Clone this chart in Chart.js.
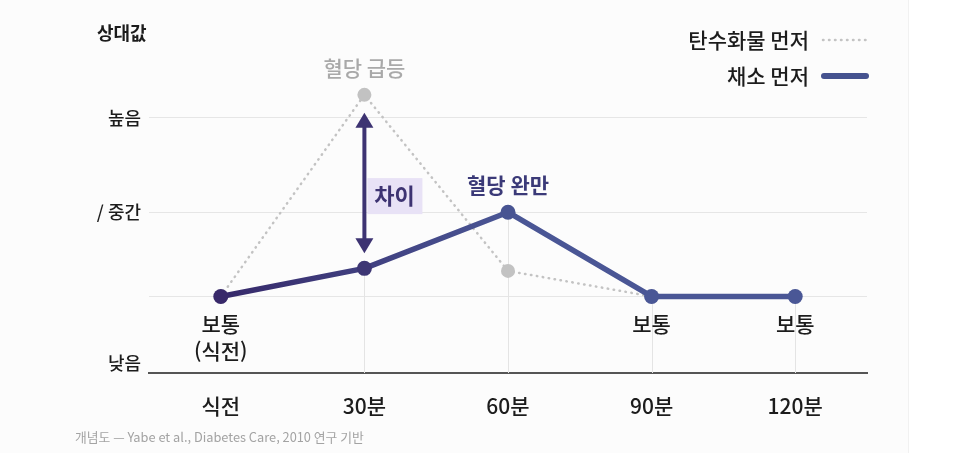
<!DOCTYPE html>
<html lang="ko">
<head>
<meta charset="UTF-8">
<title>식사 순서와 혈당</title>
<script src="https://cdn.jsdelivr.net/npm/chart.js"></script>
<style>
  html, body { margin: 0; background: #fff; }
  #wrap { width: 966px; height: 453px; position: relative; }
</style>
</head>
<body>
<div id="wrap"><canvas id="chart"></canvas></div>
<script>
const labels = ['식전', '30분', '60분', '90분', '120분'];
const carbsFirst = [30, 109, 40, 30, 30];
const vegFirst = [30, 41, 63, 30, 30];
const seriesNames = ['탄수화물 먼저', '채소 먼저'];
const yTicks = [0, 4, 30, 63, 100];
const yTickLabels = ['', '낮음', '', '/ 중간', '높음'];
const yTitle = '상대값';
const carbsNotes = ['', '혈당 급등', '', '', ''];
const vegTopNotes = ['', '', '혈당 완만', '', ''];
const vegBottomNotes = [['보통', '(식전)'], [], [], ['보통'], ['보통']];
const gapIndex = 1;
const gapLabel = '차이';
const caption = '개념도 — Yabe et al., Diabetes Care, 2010 연구 기반';

const FONT = '"Noto Sans CJK KR", "Noto Sans", sans-serif';
const INK = '#1c1c1c';
const GRAY = '#c3c3c3';
const NAVY = '#45528f';
const PURPLE = '#3d3372';

function vegGradient(context) {
  const chart = context.chart;
  if (!chart.chartArea) return NAVY;
  const xs = chart.scales.x;
  const g = chart.ctx.createLinearGradient(xs.getPixelForValue(0), 0, xs.getPixelForValue(2), 0);
  g.addColorStop(0, '#36296a');
  g.addColorStop(1, '#4a5695');
  return g;
}

function text(ctx, str, x, y, font, color, align) {
  ctx.font = font;
  ctx.fillStyle = color;
  ctx.textAlign = align || 'center';
  ctx.textBaseline = 'middle';
  ctx.fillText(str, x, y);
}

const overlay = {
  id: 'overlay',
  beforeDraw(chart) {
    const ctx = chart.ctx;
    ctx.save();
    ctx.fillStyle = '#fcfcfc';
    ctx.fillRect(0, 0, 908, chart.height);
    ctx.strokeStyle = '#f1f1f1';
    ctx.lineWidth = 1;
    ctx.beginPath();
    ctx.moveTo(908.5, 0);
    ctx.lineTo(908.5, chart.height);
    ctx.stroke();
    ctx.restore();
  },
  beforeDatasetsDraw(chart) {
    // drop lines from the 채소 points down to the axis
    const ctx = chart.ctx, xs = chart.scales.x, ys = chart.scales.y;
    ctx.save();
    ctx.strokeStyle = '#e4e4e4';
    ctx.lineWidth = 1;
    for (let i = 1; i < labels.length; i++) {
      const x = Math.round(xs.getPixelForValue(i)) + 0.5;
      ctx.beginPath();
      ctx.moveTo(x, ys.getPixelForValue(vegFirst[i]));
      ctx.lineTo(x, chart.chartArea.bottom);
      ctx.stroke();
    }
    ctx.restore();
  },
  afterDatasetsDraw(chart) {
    const ctx = chart.ctx, xs = chart.scales.x, ys = chart.scales.y;
    const area = chart.chartArea;
    ctx.save();

    // gap arrow
    const ax = xs.getPixelForValue(gapIndex);
    const yTop = ys.getPixelForValue(carbsFirst[gapIndex]) + 18;
    const yBot = ys.getPixelForValue(vegFirst[gapIndex]) - 15;
    ctx.strokeStyle = PURPLE;
    ctx.fillStyle = PURPLE;
    ctx.lineWidth = 4;
    ctx.beginPath();
    ctx.moveTo(ax, yTop + 12);
    ctx.lineTo(ax, yBot - 12);
    ctx.stroke();
    ctx.beginPath();
    ctx.moveTo(ax, yTop);
    ctx.lineTo(ax - 9, yTop + 15);
    ctx.lineTo(ax + 9, yTop + 15);
    ctx.closePath();
    ctx.fill();
    ctx.beginPath();
    ctx.moveTo(ax, yBot);
    ctx.lineTo(ax - 9, yBot - 15);
    ctx.lineTo(ax + 9, yBot - 15);
    ctx.closePath();
    ctx.fill();

    const mid = (yTop + yBot) / 2 + 13;
    ctx.fillStyle = '#e8e2f6';
    ctx.fillRect(ax + 3, mid - 18, 55, 36);
    text(ctx, gapLabel, ax + 30, mid, `bold 22px ${FONT}`, PURPLE);

    // point notes
    labels.forEach((_, i) => {
      const x = xs.getPixelForValue(i);
      if (carbsNotes[i]) {
        text(ctx, carbsNotes[i], x, ys.getPixelForValue(carbsFirst[i]) - 27, `500 21px ${FONT}`, '#a9a9a9');
      }
      if (vegTopNotes[i]) {
        text(ctx, vegTopNotes[i], x, ys.getPixelForValue(vegFirst[i]) - 27, `bold 21px ${FONT}`, '#3b3a78');
      }
      vegBottomNotes[i].forEach((line, k) => {
        text(ctx, line, x, ys.getPixelForValue(vegFirst[i]) + 28 + k * 27, `500 21px ${FONT}`, INK);
      });
    });

    // legend
    const lx = area.right - 58;
    text(ctx, seriesNames[0], lx, 40, `500 21px ${FONT}`, INK, 'right');
    text(ctx, seriesNames[1], lx, 76, `500 21px ${FONT}`, INK, 'right');
    ctx.lineCap = 'round';
    ctx.strokeStyle = GRAY;
    ctx.lineWidth = 2.5;
    ctx.setLineDash([0.5, 5.5]);
    ctx.beginPath();
    ctx.moveTo(lx + 14, 40);
    ctx.lineTo(area.right, 40);
    ctx.stroke();
    ctx.setLineDash([]);
    ctx.strokeStyle = NAVY;
    ctx.lineWidth = 6;
    ctx.beginPath();
    ctx.moveTo(lx + 15, 76);
    ctx.lineTo(area.right - 1, 76);
    ctx.stroke();

    // axis title and caption
    text(ctx, yTitle, area.left - 52, 33, `bold 18px ${FONT}`, INK, 'left');
    text(ctx, caption, 75, 437, `12.8px ${FONT}`, '#a3a3a3', 'left');
    ctx.restore();
  }
};

new Chart(document.getElementById('chart'), {
  type: 'line',
  data: {
    labels: labels,
    datasets: [{
      label: seriesNames[1],
      data: vegFirst,
      order: 0,
      borderColor: vegGradient,
      borderWidth: 5.5,
      borderJoinStyle: 'round',
      pointRadius: 7.5,
      pointBorderWidth: 0,
      pointBackgroundColor: ['#38296a', '#3d3674', '#485492', '#4a5796', '#4a5796'],
      tension: 0
    }, {
      label: seriesNames[0],
      data: carbsFirst,
      order: 1,
      borderColor: GRAY,
      borderWidth: 2.5,
      borderDash: [0.5, 5.5],
      borderCapStyle: 'round',
      pointRadius: 7,
      pointBorderWidth: 0,
      pointBackgroundColor: '#c2c2c2',
      tension: 0
    }]
  },
  options: {
    responsive: true,
    maintainAspectRatio: false,
    animation: false,
    layout: { padding: { top: 54, right: 99, left: 0, bottom: 0 } },
    plugins: { legend: { display: false }, tooltip: { enabled: false } },
    scales: {
      x: {
        offset: true,
        grid: { display: false },
        border: { display: true, color: '#555', width: 2 },
        ticks: { color: INK, padding: 12, font: { family: FONT, size: 21, weight: '500' } },
        afterFit(scale) { scale.height = 80; }
      },
      y: {
        min: 0,
        max: 125,
        border: { display: false },
        afterBuildTicks(scale) { scale.ticks = yTicks.map(v => ({ value: v })); },
        afterFit(scale) { scale.width = 149; },
        grid: {
          drawTicks: false,
          color: ctx => (ctx.tick && ctx.tick.value >= 30) ? '#e6e6e6' : 'rgba(0,0,0,0)'
        },
        ticks: {
          padding: 8,
          color: INK,
          font: { family: FONT, size: 18, weight: '500' },
          callback: (value, i) => yTickLabels[i]
        }
      }
    }
  },
  plugins: [overlay]
});
</script>
</body>
</html>
